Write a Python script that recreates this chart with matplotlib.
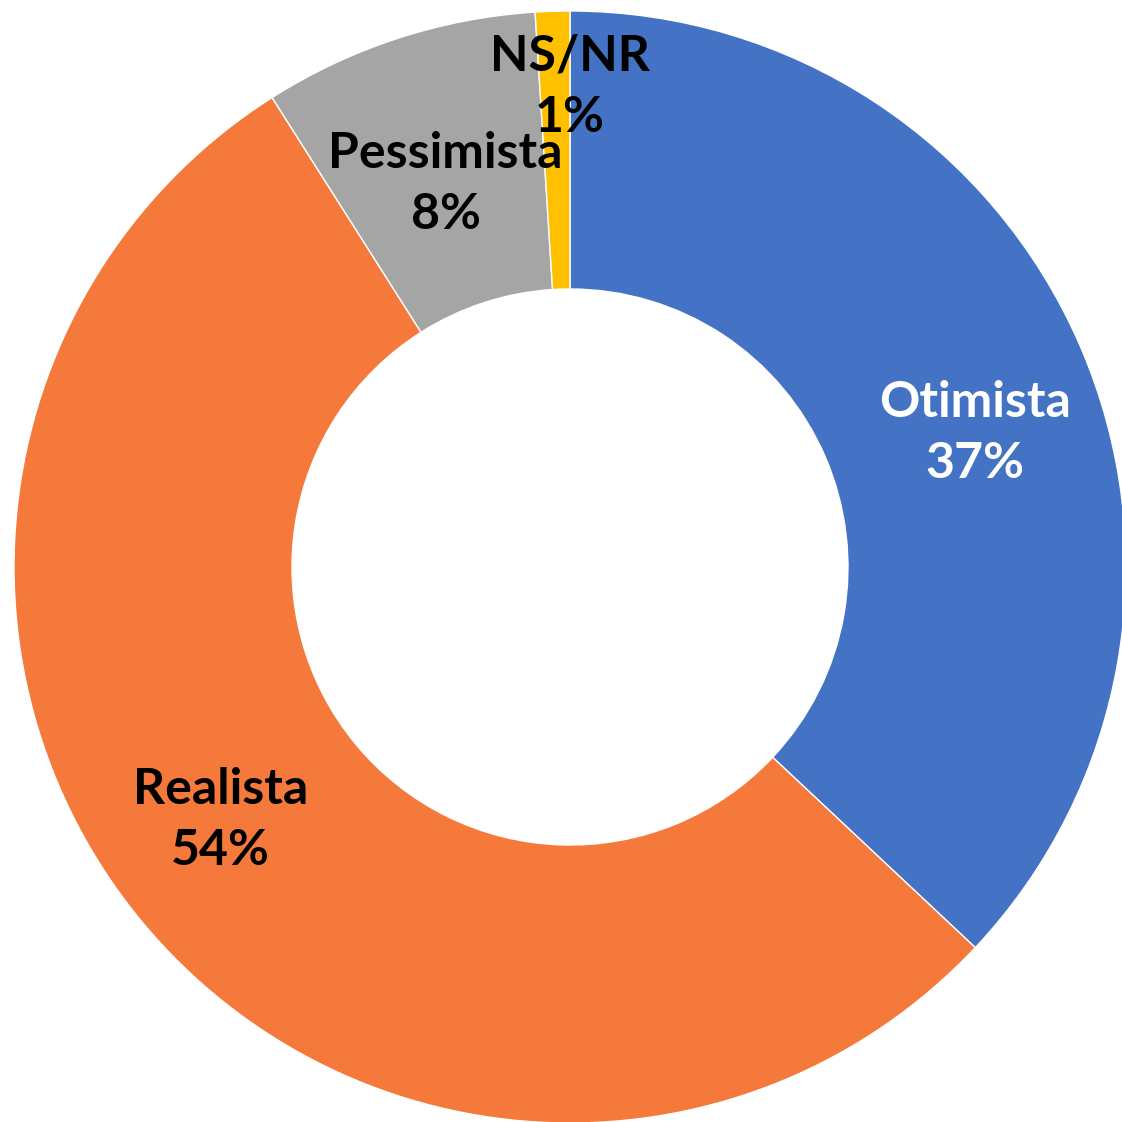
import matplotlib.pyplot as plt
import numpy as np

categories = ['Otimista', 'Realista', 'Pessimista', 'NS/NR']
values = [37, 54, 8, 1]
colors = ['#4472C4', '#F4793B', '#A5A5A5', '#FFC000']
text_colors = ['white', 'black', 'black', 'black']
# posição do rótulo: raio e desvio angular (graus) em relação ao meio da fatia
label_radius = [0.767, 0.776, 0.724, 0.863]
label_shift = [-5.1, -3.7, 0.0, -1.8]

fig = plt.figure(figsize=(11.22, 11.22), dpi=100)
ax = fig.add_axes([0, 0, 1, 1])

wedges, _ = ax.pie(values, colors=colors, startangle=90, counterclock=False,
                   radius=1.0,
                   wedgeprops=dict(width=0.5, edgecolor='white', linewidth=1))

# etiquetas: nome + percentual
for w, name, v, tc, r, s in zip(wedges, categories, values, text_colors,
                                label_radius, label_shift):
    ang = np.deg2rad((w.theta1 + w.theta2) / 2 + s)
    x, y = r * np.cos(ang), r * np.sin(ang)
    ax.text(x, y, f'{name}\n{v}%', ha='center', va='center', color=tc,
            fontsize=36, fontweight='bold', family=['Lato', 'DejaVu Sans'],
            linespacing=1.45)

ax.set_xlim(-570 / 556, (1122 - 570) / 556)
ax.set_ylim(-(1122 - 567) / 556, 567 / 556)
ax.set_aspect('equal')
ax.axis('off')

plt.savefig('out.png', dpi=100)
